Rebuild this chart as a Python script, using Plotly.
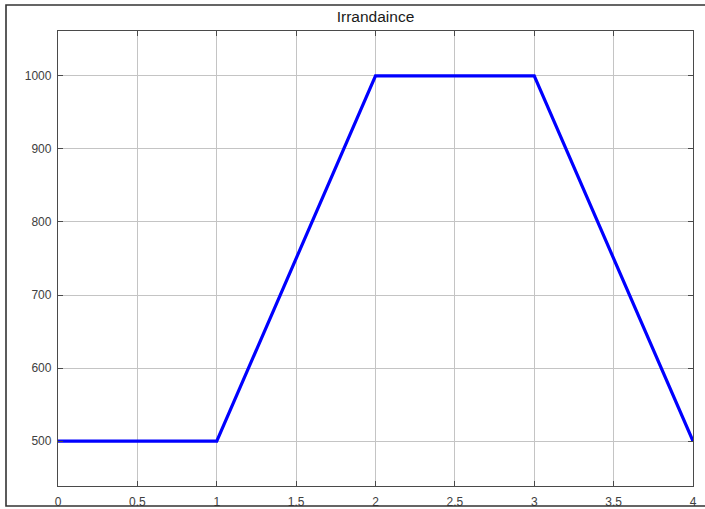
import plotly.graph_objects as go

# Irradiance profile over time
time_s = [0, 1, 2, 3, 4]
irradiance = [500, 500, 1000, 1000, 500]

x_ticks = [0, 0.5, 1, 1.5, 2, 2.5, 3, 3.5, 4]
x_tick_labels = ["0", "0.5", "1", "1.5", "2", "2.5", "3", "3.5", "4"]
y_ticks = [500, 600, 700, 800, 900, 1000]

W, H = 705, 509
ML, MR, MT, MB = 58, 12, 31, 23
pw, ph = W - ML - MR, H - MT - MB

def px_to_paper_x(px):
    return (px - ML) / pw

def px_to_paper_y(py):
    return (H - MB - py) / ph

fig = go.Figure()
fig.add_trace(go.Scatter(
    x=time_s, y=irradiance, mode="lines",
    line=dict(color="#0000FF", width=3.2),
    showlegend=False, hoverinfo="x+y",
))

axis_common = dict(
    showgrid=True, gridcolor="#c4c4c4", gridwidth=1,
    showline=True, linecolor="#4a4a4a", linewidth=1.3,
    mirror="ticks", ticks="inside", ticklen=5, tickcolor="#4a4a4a",
    tickfont=dict(family="Liberation Sans, Arial, sans-serif", size=12, color="#404040"),
    zeroline=False, automargin=False,
)

fig.update_layout(
    width=W, height=H,
    margin=dict(l=ML, r=MR, t=MT, b=MB, pad=0, autoexpand=False),
    paper_bgcolor="white", plot_bgcolor="white",
    title=dict(text="Irrandaince", x=(ML + pw / 2) / W, xanchor="center",
               y=1 - 17 / H, yanchor="middle",
               font=dict(family="Liberation Sans, Arial, sans-serif", size=15.5, color="#1a1a1a")),
    xaxis=dict(range=[0, 4], tickvals=x_ticks, ticktext=x_tick_labels,
               ticklabelstandoff=4, **axis_common),
    yaxis=dict(range=[438.5, 1061.5], tickvals=y_ticks, ticklabelstandoff=3, **axis_common),
)

# Outer figure frame
fig.add_shape(
    type="rect", xref="paper", yref="paper",
    x0=px_to_paper_x(6), x1=px_to_paper_x(712),
    y0=px_to_paper_y(506), y1=px_to_paper_y(5),
    line=dict(color="#333333", width=1.6), fillcolor="rgba(0,0,0,0)", layer="above",
)

fig.write_html("out.html")
